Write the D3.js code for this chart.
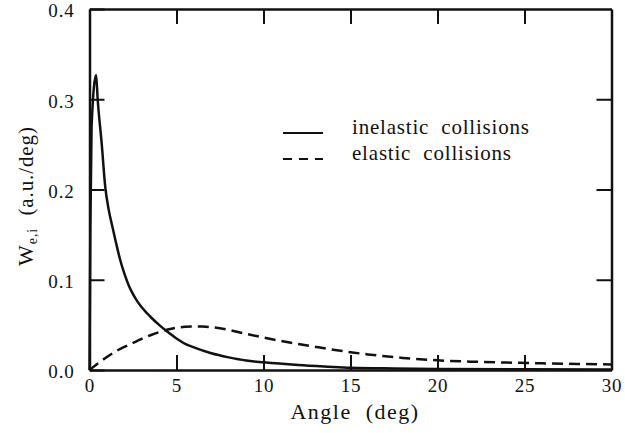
<!DOCTYPE html>
<html>
<head>
<meta charset="utf-8">
<script src="https://cdn.jsdelivr.net/npm/d3@7"></script>
<style>
  html, body { margin: 0; padding: 0; background: #fff; }
  svg { display: block; }
  svg text { font-family: "Liberation Serif", "DejaVu Serif", "Noto Serif", "Tinos", "Nimbus Roman", "FreeSerif", "Times New Roman", Times, serif; fill: #111; }
</style>
</head>
<body>
<svg id="chart" width="625" height="433"></svg>
<script>
// Angular distribution of scattered particles (a.u. per degree)
const inelasticAngle = [0, 0.05, 0.12, 0.38, 0.47, 0.7, 0.91, 1.1, 1.3, 1.5, 1.75, 2.0, 2.25, 2.5, 2.75, 3.0, 3.5, 4.0, 4.5, 5.0, 5.5, 6.0, 7.0, 8.0, 9.0, 10.0, 12, 13.7, 15, 17.5, 20, 25, 30];
const inelasticValue = [0, 0.16, 0.27, 0.327, 0.30, 0.251, 0.202, 0.178, 0.160, 0.143, 0.123, 0.107, 0.094, 0.084, 0.076, 0.0695, 0.059, 0.050, 0.042, 0.035, 0.029, 0.025, 0.0185, 0.014, 0.0105, 0.0085, 0.0055, 0.0037, 0.0025, 0.0017, 0.0012, 0.0007, 0.0005];

const elasticAngle = [0, 0.5, 1, 1.5, 2, 2.5, 3, 3.5, 4, 4.5, 5, 5.5, 6, 6.5, 7, 8, 9, 10, 11, 12, 13, 14, 15, 16, 17, 18, 19, 20, 22, 24, 26, 28, 30];
const elasticValue = [0, 0.0075, 0.0145, 0.0205, 0.0255, 0.030, 0.0345, 0.0385, 0.042, 0.0448, 0.0468, 0.0479, 0.0483, 0.0481, 0.0474, 0.0445, 0.040, 0.036, 0.0322, 0.0288, 0.0256, 0.0225, 0.0197, 0.0173, 0.0152, 0.0134, 0.0119, 0.0107, 0.0092, 0.0082, 0.0074, 0.0067, 0.0062];

const xTicks = [0, 5, 10, 15, 20, 25, 30];
const yTicks = [0.0, 0.1, 0.2, 0.3, 0.4];
const legendLabels = ["inelastic  collisions", "elastic  collisions"];

const svg = d3.select("#chart");
const plotLeft = 89.5, plotRight = 611.5, plotTop = 9, plotBottom = 370;

const x = d3.scaleLinear().domain([0, 30]).range([plotLeft, plotRight]);
const y = d3.scaleLinear().domain([0, 0.4]).range([plotBottom, plotTop]);

const axisStroke = 2.5;
const tickLen = 15;

function styleAxis(g, showLabels) {
  g.attr("font-family", null);
  g.select(".domain").attr("stroke", "#111").attr("stroke-width", axisStroke);
  g.selectAll(".tick line").attr("stroke", "#111").attr("stroke-width", 2);
  if (!showLabels) g.selectAll(".tick text").remove();
  g.selectAll(".tick text").attr("font-size", 19).attr("letter-spacing", 0.8).attr("fill", "#111");
}

// bottom axis with labels
svg.append("g")
  .attr("transform", `translate(0,${plotBottom})`)
  .call(d3.axisBottom(x).tickValues(xTicks).tickFormat(d3.format("d"))
    .tickSizeInner(-tickLen).tickSizeOuter(0).tickPadding(9))
  .call(g => styleAxis(g, true));

// top axis (ticks only)
svg.append("g")
  .attr("transform", `translate(0,${plotTop})`)
  .call(d3.axisTop(x).tickValues(xTicks.slice(1, -1))
    .tickSizeInner(-tickLen).tickSizeOuter(0))
  .call(g => styleAxis(g, false));

// left axis with labels
svg.append("g")
  .attr("transform", `translate(${plotLeft},0)`)
  .call(d3.axisLeft(y).tickValues(yTicks).tickFormat(d3.format(".1f"))
    .tickSizeInner(-tickLen).tickSizeOuter(0).tickPadding(15))
  .call(g => styleAxis(g, true))
  .call(g => g.selectAll(".tick text").attr("dy", "0.42em"));

// right axis (ticks only)
svg.append("g")
  .attr("transform", `translate(${plotRight},0)`)
  .call(d3.axisRight(y).tickValues(yTicks.slice(1, -1))
    .tickSizeInner(-tickLen).tickSizeOuter(0))
  .call(g => styleAxis(g, false));

// curves
const inelastic = inelasticAngle.map((a, i) => [a, inelasticValue[i]]);
const elastic = elasticAngle.map((a, i) => [a, elasticValue[i]]);

const line = d3.line().x(d => x(d[0])).y(d => y(d[1])).curve(d3.curveMonotoneX);

svg.append("path")
  .datum(elastic)
  .attr("d", line)
  .attr("fill", "none")
  .attr("stroke", "#111")
  .attr("stroke-width", 2.5)
  .attr("stroke-dasharray", "11,6");

svg.append("path")
  .datum(inelastic)
  .attr("d", line)
  .attr("fill", "none")
  .attr("stroke", "#111")
  .attr("stroke-width", 2.5)
  .attr("stroke-linejoin", "miter");

// legend
const legend = svg.append("g");
const legendRows = [
  { label: legendLabels[0], dash: null, y: 133 },
  { label: legendLabels[1], dash: "9,7", y: 159 }
];
legendRows.forEach(r => {
  legend.append("line")
    .attr("x1", 283).attr("x2", 323)
    .attr("y1", r.y).attr("y2", r.y)
    .attr("stroke", "#111").attr("stroke-width", 2.2)
    .attr("stroke-dasharray", r.dash);
  legend.append("text")
    .attr("x", 352).attr("y", r.y + 1)
    .attr("font-size", 21)
    .attr("letter-spacing", 0.8)
    .style("white-space", "pre")
    .text(r.label);
});

// axis titles
svg.append("text")
  .attr("x", 355).attr("y", 419)
  .attr("text-anchor", "middle")
  .attr("font-size", 22)
  .attr("letter-spacing", 1.5)
  .style("white-space", "pre")
  .text("Angle  (deg)");

const yTitle = svg.append("text")
  .attr("transform", "translate(33,196) rotate(-90)")
  .attr("text-anchor", "middle")
  .attr("font-size", 21)
  .attr("letter-spacing", 0.9)
  .style("white-space", "pre");
yTitle.append("tspan").attr("font-size", 22).text("W");
yTitle.append("tspan").attr("font-size", 14).attr("dy", 4).text("e,i");
yTitle.append("tspan").attr("dy", -4).text("  (a.u./deg)");
</script>
</body>
</html>
